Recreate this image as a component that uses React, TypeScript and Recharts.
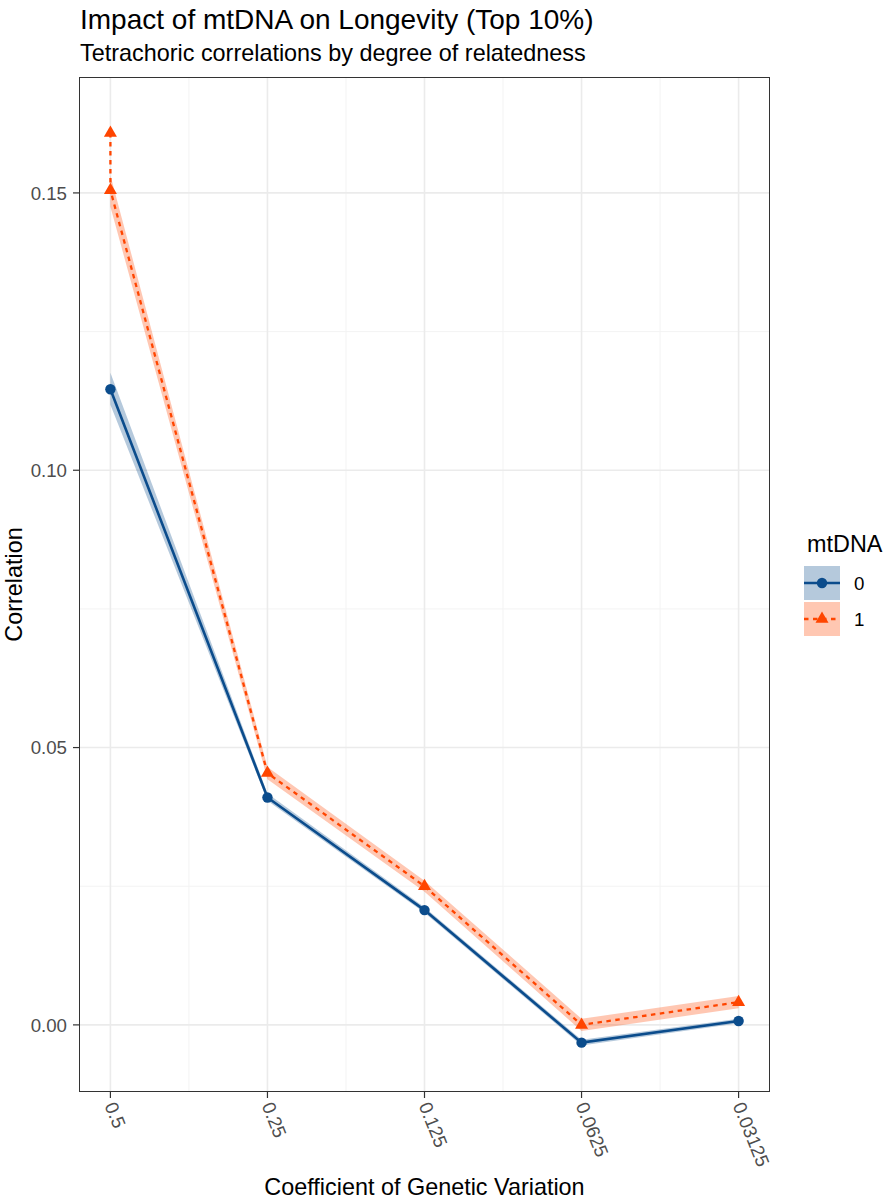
import React from 'react';
import { ComposedChart, Line, Area, XAxis, YAxis, CartesianGrid } from 'recharts';

const categories = ['0.5', '0.25', '0.125', '0.0625', '0.03125'];
const xPositions = [1, 2, 3, 4, 5];
const yTicks = [0, 0.05, 0.1, 0.15];
const yMinorTicks = [0.025, 0.075, 0.125];
const xMinorTicks = [1.5, 2.5, 3.5, 4.5];

// mtDNA = 0
const mt0X = [1, 2, 3, 4, 5];
const mt0Values = [0.1146, 0.041, 0.0207, -0.0032, 0.0007];
const mt0Lower = [0.1118, 0.0404, 0.0202, -0.0037, 0.0003];
const mt0Upper = [0.1176, 0.0417, 0.0212, -0.0027, 0.0011];

// mtDNA = 1
const mt1X = [1, 1, 2, 3, 4, 5];
const mt1Values = [0.1608, 0.1505, 0.0454, 0.025, 0.0, 0.0041];
const mt1Lower = [0.1475, 0.0443, 0.024, -0.0011, 0.003];
const mt1Upper = [0.1532, 0.0465, 0.026, 0.0011, 0.0052];

const BLUE = '#0B4C8C';
const ORANGE = '#FF4500';
const TICK_COLOR = '#4D4D4D';
const FONT = '"Liberation Sans", Arial, Helvetica, sans-serif';

const W = 884;
const H = 1200;
const PANEL = { left: 79, top: 77, right: 770, bottom: 1092 };

const bandData = xPositions.map((x, i) => ({
  x,
  band0: [mt0Lower[i], mt0Upper[i]],
  band1: [mt1Lower[i], mt1Upper[i]],
}));
const line0 = mt0X.map((x, i) => ({ x, y: mt0Values[i] }));
const line1 = mt1X.map((x, i) => ({ x, y: mt1Values[i] }));

const trianglePath = (cx: number, cy: number, s = 13) => {
  const h = (s * Math.sqrt(3)) / 2;
  const top = cy - (2 * h) / 3;
  const base = cy + h / 3;
  return `M${cx},${top} L${cx + s / 2},${base} L${cx - s / 2},${base} Z`;
};

const TriangleDot = (props: any) => {
  const { cx, cy, index } = props;
  if (cx == null || cy == null) return <g key={`t-${index}`} />;
  return <path key={`t-${index}`} d={trianglePath(cx, cy)} fill={ORANGE} stroke="none" />;
};

const CircleDot = (props: any) => {
  const { cx, cy, index } = props;
  if (cx == null || cy == null) return <g key={`c-${index}`} />;
  return <circle key={`c-${index}`} cx={cx} cy={cy} r={5.2} fill={BLUE} stroke="none" />;
};

const XTick = (props: any) => {
  const { x, payload } = props;
  const label = categories[Math.round(payload.value) - 1] ?? '';
  const ay = PANEL.bottom + 6 + 5;
  return (
    <g transform={`translate(${x},${ay})`}>
      <text
        transform="rotate(68)"
        x={0}
        y={0}
        dy="0.35em"
        textAnchor="start"
        fill={TICK_COLOR}
        fontSize={18.7}
        fontFamily={FONT}
      >
        {label}
      </text>
    </g>
  );
};

export default function App() {
  return (
    <div style={{ position: 'absolute', left: 0, top: 0, width: W, height: H, background: '#fff' }}>
      <ComposedChart
        width={W}
        height={H}
        data={bandData}
        margin={{ top: PANEL.top, right: W - PANEL.right, bottom: 0, left: 0 }}
        style={{ fontFamily: FONT }}
      >
        <CartesianGrid
          horizontalValues={yMinorTicks}
          verticalValues={xMinorTicks}
          stroke="#F3F3F3"
          strokeWidth={1}
          fill="none"
        />
        <CartesianGrid
          horizontalValues={yTicks}
          verticalValues={xPositions}
          stroke="#EBEBEB"
          strokeWidth={1.6}
          fill="none"
        />
        <XAxis
          type="number"
          dataKey="x"
          domain={[0.8, 5.2]}
          ticks={xPositions}
          interval={0}
          allowDataOverflow
          axisLine={false}
          tickLine={{ stroke: '#333333', strokeWidth: 1.2 }}
          tickSize={6}
          tick={<XTick />}
          height={H - PANEL.bottom}
        />
        <YAxis
          type="number"
          domain={[-0.0121, 0.1709]}
          ticks={yTicks}
          interval={0}
          allowDataOverflow
          axisLine={false}
          tickLine={{ stroke: '#333333', strokeWidth: 1.2 }}
          tickSize={6}
          tickMargin={6}
          tickFormatter={(v: number) => v.toFixed(2)}
          tick={{ fill: TICK_COLOR, fontSize: 18.7, fontFamily: FONT }}
          width={PANEL.left}
        />
        <Area
          dataKey="band0"
          type="linear"
          stroke="none"
          fill={BLUE}
          fillOpacity={0.3}
          isAnimationActive={false}
          activeDot={false}
        />
        <Area
          dataKey="band1"
          type="linear"
          stroke="none"
          fill={ORANGE}
          fillOpacity={0.3}
          isAnimationActive={false}
          activeDot={false}
        />
        <Line
          data={line0}
          dataKey="y"
          type="linear"
          stroke={BLUE}
          strokeWidth={2.6}
          dot={CircleDot}
          activeDot={false}
          isAnimationActive={false}
        />
        <Line
          data={line1}
          dataKey="y"
          type="linear"
          stroke={ORANGE}
          strokeWidth={2.3}
          strokeDasharray="4.5 4.5"
          dot={TriangleDot}
          activeDot={false}
          isAnimationActive={false}
        />
      </ComposedChart>

      <div
        style={{
          position: 'absolute',
          left: PANEL.left - 0.5,
          top: PANEL.top - 0.5,
          width: PANEL.right - PANEL.left,
          height: PANEL.bottom - PANEL.top,
          border: '1.2px solid #333333',
          boxSizing: 'border-box',
          pointerEvents: 'none',
        }}
      />

      <svg
        width={W}
        height={H}
        style={{ position: 'absolute', left: 0, top: 0, pointerEvents: 'none' }}
        fontFamily={FONT}
      >
        <text x={80} y={29} fontSize={28} fill="#000">
          Impact of mtDNA on Longevity (Top 10%)
        </text>
        <text x={80} y={61} fontSize={23.4} fill="#000">
          Tetrachoric correlations by degree of relatedness
        </text>
        <text x={(PANEL.left + PANEL.right) / 2} y={1195} fontSize={23.4} fill="#000" textAnchor="middle">
          Coefficient of Genetic Variation
        </text>
        <text
          transform={`translate(22,${(PANEL.top + PANEL.bottom) / 2}) rotate(-90)`}
          fontSize={23.4}
          fill="#000"
          textAnchor="middle"
        >
          Correlation
        </text>

        {/* legend */}
        <text x={807} y={551.5} fontSize={23.4} fill="#000">
          mtDNA
        </text>
        <rect x={804} y={566} width={36} height={34} fill={BLUE} fillOpacity={0.3} />
        <line x1={804} x2={840} y1={583} y2={583} stroke={BLUE} strokeWidth={2.6} />
        <circle cx={822} cy={583} r={5.2} fill={BLUE} />
        <text x={854} y={589.7} fontSize={18.7} fill="#000">
          0
        </text>
        <rect x={804} y={602} width={36} height={34} fill={ORANGE} fillOpacity={0.3} />
        <line
          x1={804}
          x2={840}
          y1={619}
          y2={619}
          stroke={ORANGE}
          strokeWidth={2.3}
          strokeDasharray="4.5 4.5"
        />
        <path d={trianglePath(822, 619)} fill={ORANGE} />
        <text x={854} y={625.7} fontSize={18.7} fill="#000">
          1
        </text>
      </svg>
    </div>
  );
}
